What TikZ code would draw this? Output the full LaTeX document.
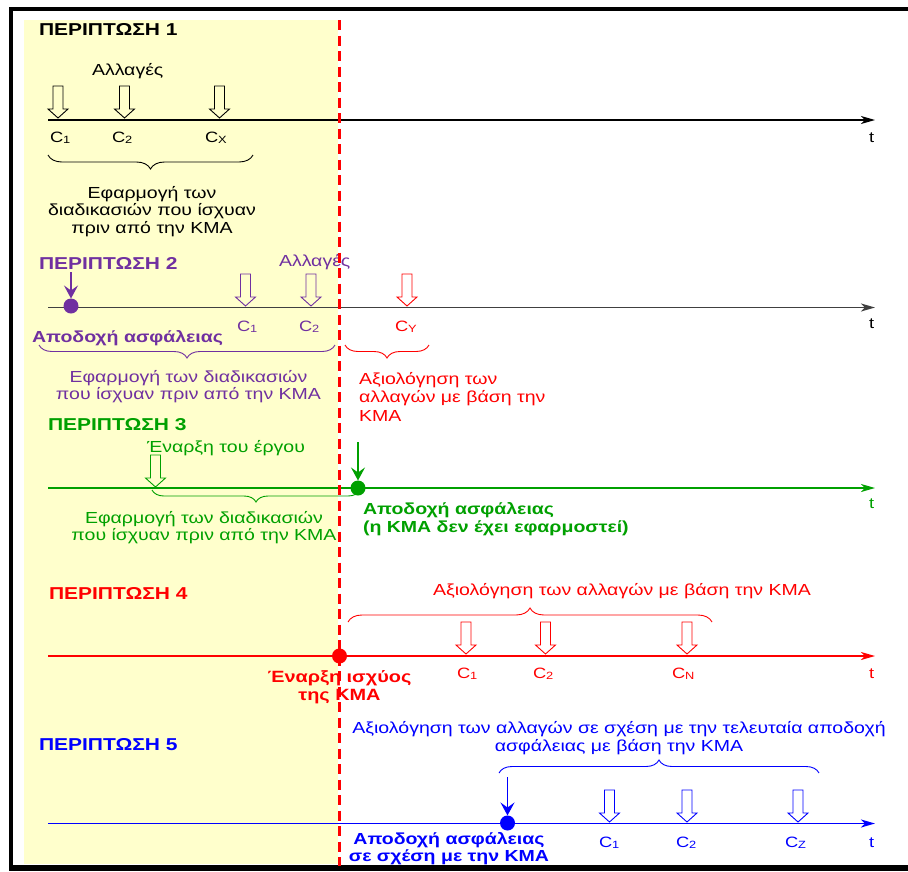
\documentclass[tikz,border=0pt]{standalone}
\usepackage{fontspec}
\setmainfont{Liberation Sans}[FakeStretch=1.22]
\usetikzlibrary{arrows.meta,decorations.pathreplacing}
\definecolor{kpurple}{HTML}{7030A0}
\definecolor{kgreen}{HTML}{00A000}
\definecolor{kred}{HTML}{FF0000}
\definecolor{kblue}{HTML}{0000FF}
\definecolor{kyellow}{HTML}{FFFFCC}
\definecolor{kgray}{HTML}{404040}
\newcommand\csub[1]{C\raisebox{-1.3pt}{\fontsize{10.5}{10.5}\selectfont #1}}
\newcommand\mlc[1]{\begin{tabular}[t]{@{}c@{}}#1\end{tabular}}
\newcommand\mll[1]{\begin{tabular}[t]{@{}l@{}}#1\end{tabular}}
\begin{document}
\begin{tikzpicture}[x=1pt,y=-1pt,
  every node/.style={inner sep=0pt, outer sep=0pt},
  reg/.style={font=\fontsize{16}{18}\selectfont},
  bld/.style={font=\fontsize{16}{18}\selectfont\bfseries},
  lab/.style={font=\fontsize{15}{15}\selectfont, anchor=base west},
  ttl/.style={font=\fontsize{17.2}{18}\selectfont\bfseries, anchor=base west},
  tline/.style={line width=1.5pt, -{Stealth[length=14pt,width=8pt,inset=4pt]}},
  harrow/.pic={\draw[pic actions, line width=0.9pt] (-5,0) -- (-5,23) -- (-10,23) -- (0,32) -- (10,23) -- (5,23) -- (5,0) -- cycle;},
  dotn/.style={circle, minimum size=15pt},
  darrow/.style={line width=1.3pt, -{Stealth[length=13pt,width=14pt,inset=5pt]}},
  brc/.style={decorate, decoration={brace, amplitude=#1}, line width=0.9pt},
  brc/.default=13pt,
  kmadash/.style={kred, line width=3pt, dash pattern=on 10pt off 5.5pt}]
\useasboundingbox (0,0) rectangle (908,871);
% background and frame
\fill[kyellow] (24,20) rectangle (338,864);
\fill[black] (9,7) rectangle (908,11);
\fill[black] (9,7) rectangle (13,871);
\fill[black] (9,865) rectangle (908,871);

% ---------------- Case 1
\node[ttl] (t1) at (39,35) {ΠΕΡΙΠΤΩΣΗ 1};
\node[reg, anchor=base west] (ch1) at (92,75) {Αλλαγές};
\coordinate (s1) at (48,120); \coordinate (e1) at (875,120);
\draw[tline, line width=1.3pt] (s1) -- (e1);
\pic[draw=black] at (58,86) {harrow};
\pic[draw=black] at (124.5,86) {harrow};
\pic[draw=black] at (219.5,86) {harrow};
\node[lab] (c11) at (50,142) {\csub{1}};
\node[lab] (c12) at (112,142) {\csub{2}};
\node[lab] (c1x) at (205,142) {\csub{X}};
\node[lab] (tt1) at (869,142) {t};
\coordinate (b1r) at (253,155); \coordinate (b1l) at (48,155);
\draw[brc=14pt] (b1r) -- (b1l);
\node[anchor=base, font=\fontsize{16}{17.8}\selectfont] (x1) at (152,198) {\mlc{Εφαρμογή των\\διαδικασιών που ίσχυαν\\πριν από την ΚΜΑ}};

% ---------------- Case 2
\node[ttl, text=kpurple] (t2) at (39,269) {ΠΕΡΙΠΤΩΣΗ 2};
\node[reg, anchor=base west, text=kpurple] (ch2) at (279,266) {Αλλαγές};
\coordinate (s2) at (48,307.5); \coordinate (e2) at (875,307.5);
\draw[tline, kgray] (s2) -- (e2);
\node[dotn, fill=kpurple] (d2) at (71,306) {};
\coordinate (a2) at (71,272);
\draw[darrow, kpurple] (a2) -- (d2.north);
\pic[draw=kpurple] at (245.5,274) {harrow};
\pic[draw=kpurple] at (311,274) {harrow};
\pic[draw=kred] at (407,274) {harrow};
\node[lab, text=kpurple] (c21) at (237,331) {\csub{1}};
\node[lab, text=kpurple] (c22) at (299,331) {\csub{2}};
\node[lab, text=kred] (c2y) at (395,331) {\csub{Y}};
\node[lab] (tt2) at (869,328) {t};
\node[bld, anchor=base west, text=kpurple] (acc2) at (32,342) {Αποδοχή ασφάλειας};
\coordinate (b2r) at (335,345); \coordinate (b2l) at (39,345);
\draw[brc, kpurple] (b2r) -- (b2l);
\node[anchor=base, text=kpurple, font=\fontsize{16}{17}\selectfont] (x2) at (188.5,382) {\mlc{Εφαρμογή των διαδικασιών\\που ίσχυαν πριν από την ΚΜΑ}};
\coordinate (b2rr) at (429,345); \coordinate (b2rl) at (345,345);
\draw[brc, kred] (b2rr) -- (b2rl);
\node[anchor=base west, text=kred, font=\fontsize{16}{18.5}\selectfont] (y2) at (359,384) {\mll{Αξιολόγηση των\\αλλαγών με βάση την\\ΚΜΑ}};

% ---------------- Case 3
\node[ttl, text=kgreen] (t3) at (48,430) {ΠΕΡΙΠΤΩΣΗ 3};
\node[reg, anchor=base west, text=kgreen] (st3) at (147,452) {Έναρξη του έργου};
\coordinate (s3) at (48,488); \coordinate (e3) at (875,488);
\draw[tline, kgreen] (s3) -- (e3);
\pic[draw=kgreen] at (155.5,455) {harrow};
\node[dotn, fill=kgreen] (d3) at (358,488) {};
\coordinate (a3) at (358,442);
\draw[darrow, kgreen] (a3) -- (d3.north);
\coordinate (b3r) at (360,490); \coordinate (b3l) at (152,490);
\draw[brc=12pt, kgreen] (b3r) -- (b3l);
\node[anchor=base, text=kgreen, font=\fontsize{16}{17}\selectfont] (x3) at (204,523) {\mlc{Εφαρμογή των διαδικασιών\\που ίσχυαν πριν από την ΚΜΑ}};
\node[anchor=base west, text=kgreen, font=\fontsize{16}{18}\selectfont\bfseries] (acc3) at (363,514) {\mll{Αποδοχή ασφάλειας\\(η ΚΜΑ δεν έχει εφαρμοστεί)}};
\node[lab, text=kgreen] (tt3) at (869,508) {t};

% ---------------- Case 4
\node[ttl, text=kred] (t4) at (49,599) {ΠΕΡΙΠΤΩΣΗ 4};
\node[reg, anchor=base, text=kred] (y4) at (622,595) {Αξιολόγηση των αλλαγών με βάση την ΚΜΑ};
\coordinate (b4l) at (348,622); \coordinate (b4r) at (712,622);
\draw[brc=14pt, kred] (b4l) -- (b4r);
\pic[draw=kred] at (466,622) {harrow};
\pic[draw=kred] at (545.5,622) {harrow};
\pic[draw=kred] at (687,622) {harrow};
\coordinate (s4) at (48,656); \coordinate (e4) at (875,656);
\draw[tline, kred] (s4) -- (e4);
\node[dotn, fill=kred] (d4) at (339.5,656) {};
\node[anchor=base, text=kred, font=\fontsize{16.3}{18}\selectfont\bfseries] (st4) at (339.5,682) {\mlc{Έναρξη ισχύος\\της ΚΜΑ}};
\node[lab, text=kred] (c41) at (457,678) {\csub{1}};
\node[lab, text=kred] (c42) at (533,678) {\csub{2}};
\node[lab, text=kred] (c4n) at (672,678) {\csub{N}};
\node[lab, text=kred] (tt4) at (869,678) {t};

% ---------------- Case 5
\node[ttl, text=kblue] (t5) at (39,750) {ΠΕΡΙΠΤΩΣΗ 5};
\node[anchor=base, text=kblue, font=\fontsize{16}{18}\selectfont] (y5) at (619,733) {\mlc{Αξιολόγηση των αλλαγών σε σχέση με την τελευταία αποδοχή\\ασφάλειας με βάση την ΚΜΑ}};
\coordinate (b5l) at (499,773); \coordinate (b5r) at (819,773);
\draw[brc, kblue] (b5l) -- (b5r);
\coordinate (s5) at (48,823.5); \coordinate (e5) at (875,823.5);
\draw[tline, kblue] (s5) -- (e5);
\node[dotn, fill=kblue] (d5) at (507.5,823) {};
\coordinate (a5) at (507.5,777);
\draw[darrow, kblue] (a5) -- (d5.north);
\pic[draw=kblue] at (609.5,790) {harrow};
\pic[draw=kblue] at (687,790) {harrow};
\pic[draw=kblue] at (798,790) {harrow};
\node[anchor=base, text=kblue, font=\fontsize{16}{17}\selectfont\bfseries] (acc5) at (449,844) {\mlc{Αποδοχή ασφάλειας\\σε σχέση με την ΚΜΑ}};
\node[lab, text=kblue] (c51) at (599,847) {\csub{1}};
\node[lab, text=kblue] (c52) at (676,847) {\csub{2}};
\node[lab, text=kblue] (c5z) at (785,847) {\csub{Z}};
\node[lab, text=kblue] (tt5) at (869,847) {t};

% ---------------- KMA boundary
\coordinate (kt) at (339,20); \coordinate (kb) at (339,866);
\draw[kmadash] (kt) -- (kb);
\end{tikzpicture}
\end{document}
